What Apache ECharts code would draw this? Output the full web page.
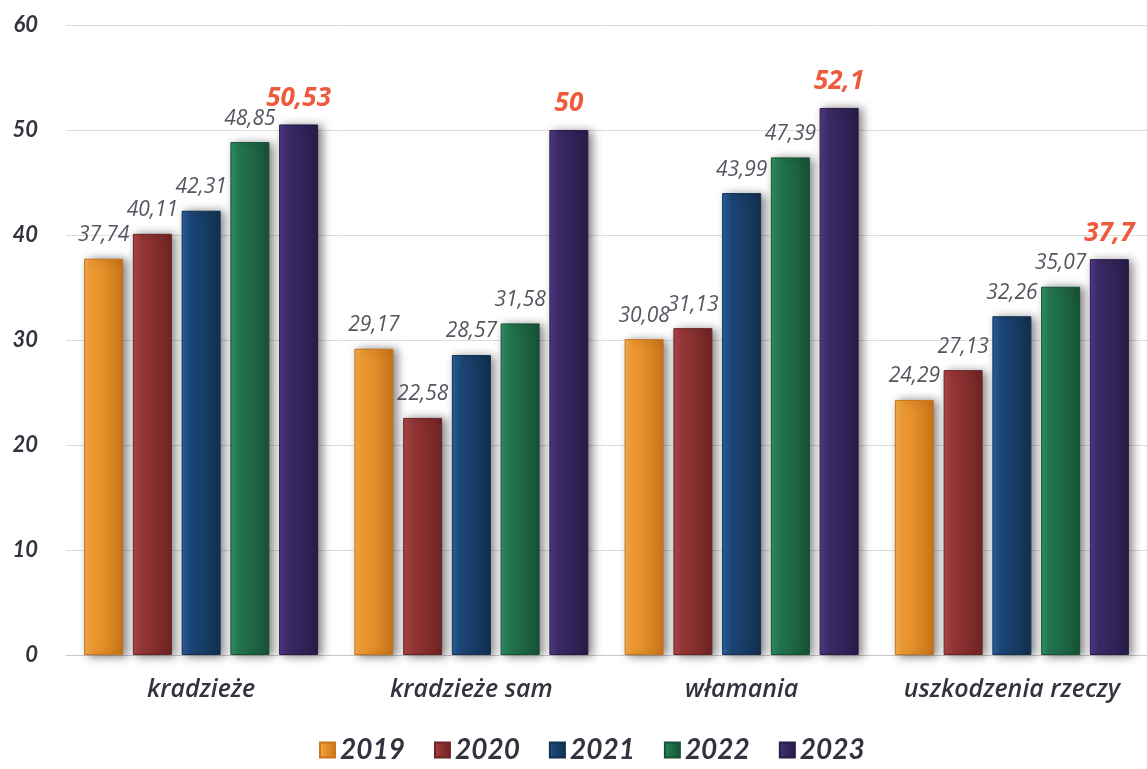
<!DOCTYPE html>
<html>
<head>
<meta charset="utf-8">
<script src="https://cdn.jsdelivr.net/npm/echarts@6/dist/echarts.min.js"></script>
<style>
html,body{margin:0;padding:0;background:#ffffff;}
#chart{width:1147px;height:769px;}
</style>
</head>
<body>
<div id="chart"></div>
<script>
const categories = ['kradzieże', 'kradzieże sam', 'włamania', 'uszkodzenia rzeczy'];
const years = ['2019', '2020', '2021', '2022', '2023'];
const values2019 = [37.74, 29.17, 30.08, 24.29];
const values2020 = [40.11, 22.58, 31.13, 27.13];
const values2021 = [42.31, 28.57, 43.99, 32.26];
const values2022 = [48.85, 31.58, 47.39, 35.07];
const values2023 = [50.53, 50, 52.1, 37.7];
const yTicks = [0, 10, 20, 30, 40, 50, 60];

const seriesValues = [values2019, values2020, values2021, values2022, values2023];
const colors = [
  ['#f8ae4c', '#f09a30', '#c9741a'],
  ['#b0474a', '#973636', '#6e2424'],
  ['#2a63a0', '#1c4677', '#12304f'],
  ['#2f9466', '#237650', '#175236'],
  ['#553a8c', '#3b2a68', '#281c48']
];
const FONT = 'Lato, "Open Sans", sans-serif';
const FONT2 = '"Open Sans", Lato, sans-serif';

function fmt(v) { return String(v).replace('.', ','); }

const chart = echarts.init(document.getElementById('chart'));
const series = years.map((y, i) => {
  const last = i === years.length - 1;
  return {
    name: y,
    type: 'bar',
    data: seriesValues[i],
    barWidth: 39,
    barGap: '25%',
    itemStyle: {
      color: new echarts.graphic.LinearGradient(0, 0, 1, 0, [
        { offset: 0, color: colors[i][0] },
        { offset: 0.25, color: colors[i][1] },
        { offset: 1, color: colors[i][2] }
      ]),
      borderColor: colors[i][2],
      borderWidth: 1,
      shadowColor: 'rgba(0,0,0,0.5)',
      shadowBlur: 9,
      shadowOffsetX: 4,
      shadowOffsetY: 1
    },
    label: {
      show: true,
      position: 'top',
      distance: 13,
      formatter: p => fmt(p.value),
      fontFamily: FONT2,
      fontStyle: 'italic',
      fontWeight: last ? 'bold' : 'normal',
      fontSize: last ? 26 : 21,
      color: last ? '#f05a3c' : '#55555f'
    }
  };
});

chart.setOption({
  backgroundColor: '#ffffff',
  animation: false,
  color: colors.map(c => c[1]),
  grid: { left: 66, right: -7, top: 25, bottom: 114, containLabel: false },
  legend: {
    data: years,
    bottom: 0,
    left: 314,
    itemWidth: 15,
    itemHeight: 15,
    itemGap: 29,
    icon: 'rect',
    textStyle: {
      fontFamily: FONT,
      fontStyle: 'italic',
      fontWeight: 'bold',
      fontSize: 28,
      color: '#33333f'
    }
  },
  xAxis: {
    type: 'category',
    data: categories,
    axisLine: { show: true, lineStyle: { color: '#c8c8c8', width: 1 } },
    axisTick: { show: false },
    axisLabel: {
      interval: 0,
      margin: 22,
      fontFamily: FONT2,
      fontStyle: 'italic',
      fontWeight: 600,
      fontSize: 25,
      color: '#33333f'
    }
  },
  yAxis: {
    type: 'value',
    min: yTicks[0],
    max: yTicks[yTicks.length - 1],
    interval: 10,
    axisLine: { show: false },
    axisTick: { show: false },
    splitLine: { lineStyle: { color: '#dcdcdc', width: 1 } },
    axisLabel: {
      margin: 28,
      fontFamily: FONT,
      fontStyle: 'italic',
      fontWeight: 'bold',
      fontSize: 22,
      color: '#33333f'
    }
  },
  series: series
});
</script>
</body>
</html>
